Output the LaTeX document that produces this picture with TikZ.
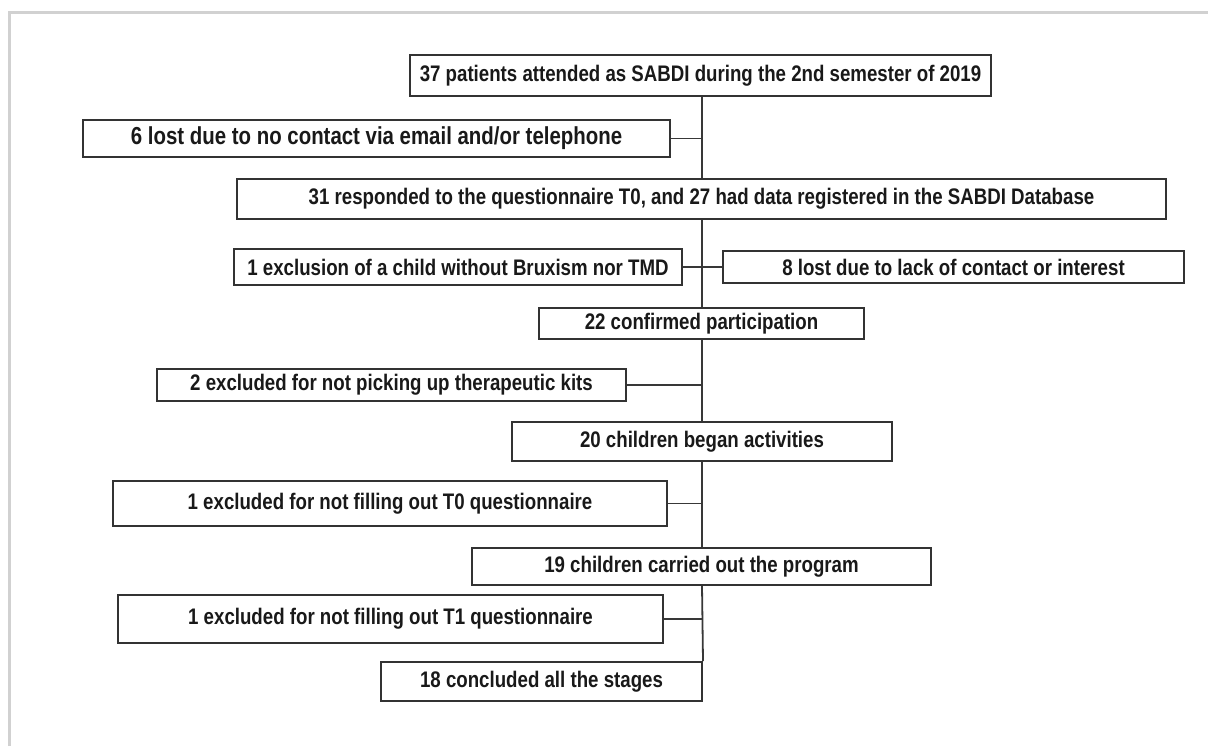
\documentclass[tikz,border=0pt]{standalone}
\usepackage{fontspec}
\setmainfont{Liberation Sans}[FakeStretch=0.83]
\usepackage{tikz}
\usetikzlibrary{positioning}

\begin{document}
\begin{tikzpicture}[x=0.5pt,y=-0.5pt,
    box/.style={draw=black!80, line width=1pt, fill=white, inner sep=0pt,
        text=black!90, font=\bfseries\fontsize{11.25}{13}\selectfont},
    link/.style={draw=black!78, line width=0.9pt}]
            \useasboundingbox (0,0) rectangle (1208,746);
            \draw[black!18, line width=1.5pt] (9,746) -- (9,12) -- (1208,12);

            \coordinate (sp) at (702,0);

            \node[box, minimum width=290.5pt, minimum height=20.5pt] (pop) at (700.5,75.5) {37 patients attended as SABDI during the 2nd semester of 2019};
            \node[box, minimum width=293.5pt, minimum height=18.5pt, font=\bfseries\fontsize{12.3}{14}\selectfont] (lost6) at (376.5,138.5) {6 lost due to no contact via email and/or telephone};
            \node[box, minimum width=464.5pt, minimum height=20pt] (resp) at (701.5,199) {31 responded to the questionnaire T0, and 27 had data registered in the SABDI Database};
            \node[box, minimum width=224pt, minimum height=18pt] (excl) at (458,267) {1 exclusion of a child without Bruxism nor TMD};
            \node[box, minimum width=230.5pt, minimum height=16pt] (lost8) at (953.5,267) {8 lost due to lack of contact or interest};
            \node[box, minimum width=162.5pt, minimum height=15.5pt] (conf) at (701.5,323.5) {22 confirmed participation};
            \node[box, minimum width=234.5pt, minimum height=16pt] (kits) at (391.5,385) {2 excluded for not picking up therapeutic kits};
            \node[box, minimum width=190pt, minimum height=19.5pt] (began) at (702,441.5) {20 children began activities};
            \node[box, minimum width=277pt, minimum height=22.5pt] (noTa) at (390,503.5) {1 excluded for not filling out T0 questionnaire};
            \node[box, minimum width=229.5pt, minimum height=18.5pt] (prog) at (701.5,566.5) {19 children carried out the program};
            \node[box, minimum width=272.5pt, minimum height=24pt] (noTb) at (390.5,619) {1 excluded for not filling out T1 questionnaire};
            \node[box, minimum width=160.5pt, minimum height=19.5pt] (done) at (541.5,681.5) {18 concluded all the stages};

            % main line
            \draw[link] (pop.south -| sp) -- (resp.north -| sp);
            \draw[link] (resp.south -| sp) -- (conf.north -| sp);
            \draw[link] (conf.south -| sp) -- (began.north -| sp);
            \draw[link] (began.south -| sp) -- (prog.north -| sp);
            \draw[link] (prog.south -| sp) -- (done.north east);

            % losses
            \draw[link] (lost6.east) -- (lost6.east -| sp);
            \draw[link] (excl.east) -- (lost8.west);
            \draw[link] (kits.east) -- (kits.east -| sp);
            \draw[link] (noTa.east) -- (noTa.east -| sp);
            \draw[link] (noTb.east) -- (noTb.east -| sp);

        \end{tikzpicture}
\end{document}
